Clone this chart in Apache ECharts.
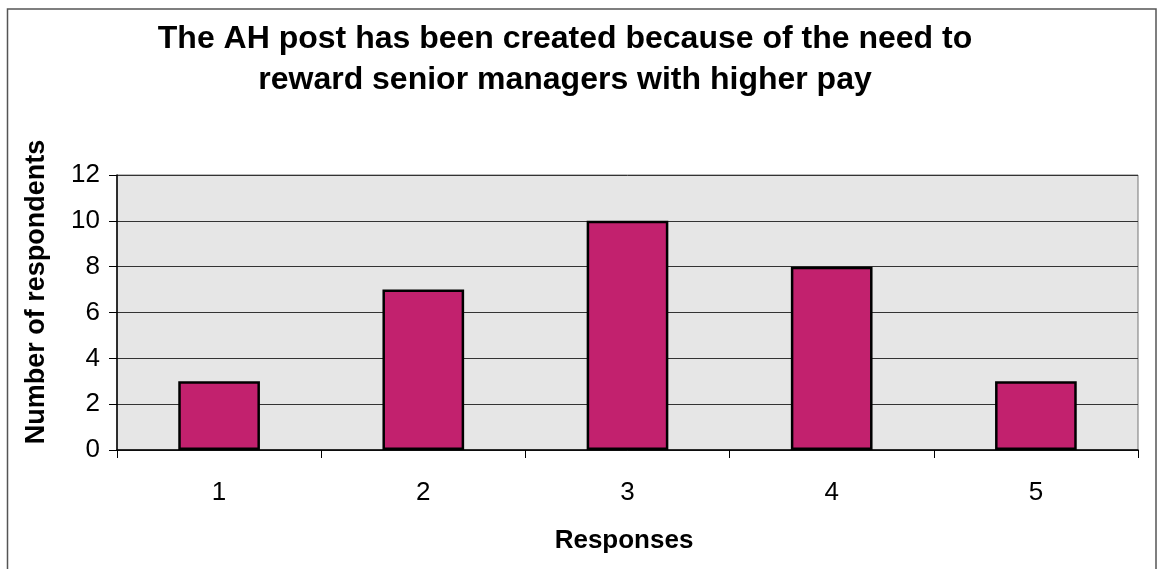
<!DOCTYPE html>
<html>
<head>
<meta charset="utf-8">
<script src="https://cdn.jsdelivr.net/npm/echarts@6/dist/echarts.min.js"></script>
<style>
  html, body { margin: 0; padding: 0; background: #ffffff; }
  #chart { width: 1157px; height: 569px; }
</style>
</head>
<body>
<div id="chart"></div>
<script>
// Survey responses on a 1–5 scale and how many respondents chose each
const categories = ['1', '2', '3', '4', '5'];
const respondents = [3, 7, 10, 8, 3];
const yTicks = { min: 0, max: 12, interval: 2 };

const titleLines = [
  'The AH post has been created because of the need to',
  'reward senior managers with higher pay'
];
const xAxisTitle = 'Responses';
const yAxisTitle = 'Number of respondents';

const FONT = '"Liberation Sans", Arial, sans-serif';
const chart = echarts.init(document.getElementById('chart'), null, { renderer: 'canvas' });

chart.setOption({
  backgroundColor: '#ffffff',
  animation: false,
  title: {
    text: titleLines.join('\n'),
    left: 560,
    top: 14,
    textAlign: 'center',
    textStyle: {
      fontFamily: FONT,
      fontSize: 32,
      fontWeight: 'bold',
      color: '#000000',
      lineHeight: 41
    }
  },
  graphic: [
    {
      type: 'rect',
      silent: true,
      shape: { x: 7.5, y: 9, width: 1148.5, height: 600 },
      style: { fill: 'none', stroke: '#555555', lineWidth: 1.5 }
    },
    {
      type: 'text',
      silent: true,
      x: 37,
      y: 292,
      rotation: Math.PI / 2,
      style: {
        text: yAxisTitle,
        fontFamily: FONT,
        fontSize: 27,
        fontWeight: 'bold',
        fill: '#000',
        textAlign: 'center',
        textVerticalAlign: 'middle'
      }
    },
    {
      type: 'text',
      silent: true,
      x: 624,
      y: 541,
      style: {
        text: xAxisTitle,
        fontFamily: FONT,
        fontSize: 26,
        fontWeight: 'bold',
        fill: '#000',
        textAlign: 'center',
        textVerticalAlign: 'middle'
      }
    }
  ],
  grid: {
    left: 117,
    right: 19,
    top: 175,
    bottom: 119,
    show: true,
    backgroundColor: '#e6e6e6',
    borderColor: '#777777',
    borderWidth: 1
  },
  xAxis: {
    type: 'category',
    data: categories,
    axisLine: { show: true, lineStyle: { color: '#000', width: 1.5 } },
    axisTick: { show: true, alignWithLabel: false, length: 8, lineStyle: { color: '#000' } },
    axisLabel: { fontFamily: FONT, fontSize: 26, color: '#000', margin: 30 },
    splitLine: { show: false }
  },
  yAxis: {
    type: 'value',
    min: yTicks.min,
    max: yTicks.max,
    interval: yTicks.interval,
    axisLine: { show: true, lineStyle: { color: '#000', width: 1.5 } },
    axisTick: { show: true, length: 8, lineStyle: { color: '#000' } },
    axisLabel: { fontFamily: FONT, fontSize: 26, color: '#000', margin: 17 },
    splitLine: { show: true, lineStyle: { color: '#333333', width: 1 } }
  },
  series: [
    {
      type: 'bar',
      data: respondents,
      barWidth: '40%',
      itemStyle: {
        color: '#c2216e',
        borderColor: '#000000',
        borderWidth: 2.5
      }
    }
  ]
});
</script>
</body>
</html>
